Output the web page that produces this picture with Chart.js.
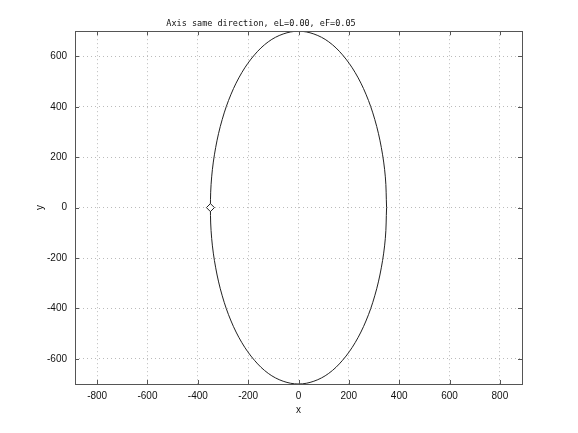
<!DOCTYPE html>
<html>
<head>
<meta charset="utf-8">
<script src="https://cdn.jsdelivr.net/npm/chart.js@4/dist/chart.umd.min.js"></script>
<style>
  html, body { margin: 0; padding: 0; background: #fff; }
  #wrap { width: 578px; height: 433px; }
</style>
</head>
<body>
<div id="wrap"><canvas id="c"></canvas></div>
<script>
// orbit outline, every 10 degrees
var orbitX = [350, 345, 329, 303, 268, 225, 175, 120, 61, 0,
    -61, -120, -175, -225, -268, -303, -329, -345, -350,
    -345, -329, -303, -268, -225, -175, -120, -61, 0,
    61, 120, 175, 225, 268, 303, 329, 345, 350];
var orbitY = [0, 122, 239, 350, 450, 536, 606, 658, 689, 700,
    689, 658, 606, 536, 450, 350, 239, 122, 0,
    -122, -239, -350, -450, -536, -606, -658, -689, -700,
    -689, -658, -606, -536, -450, -350, -239, -122, 0];
var markerX = [-350];
var markerY = [0];
var xTicks = [-800, -600, -400, -200, 0, 200, 400, 600, 800];
var yTicks = [-600, -400, -200, 0, 200, 400, 600];

var orbit = orbitX.map(function (x, i) { return {x: x, y: orbitY[i]}; });
var marker = markerX.map(function (x, i) { return {x: x, y: markerY[i]}; });

var tickFont = {family: 'Liberation Sans', size: 10};

// inward tick marks on all four sides plus the frame
var frame = {
    id: 'frame',
    afterDraw: function (chart) {
        var ctx = chart.ctx, a = chart.chartArea;
        var sx = chart.scales.x, sy = chart.scales.y;
        ctx.save();
        ctx.strokeStyle = '#555';
        ctx.lineWidth = 1;
        ctx.beginPath();
        xTicks.forEach(function (v) {
            var p = Math.round(sx.getPixelForValue(v)) + 0.5;
            ctx.moveTo(p, a.bottom); ctx.lineTo(p, a.bottom - 4);
            ctx.moveTo(p, a.top); ctx.lineTo(p, a.top + 4);
        });
        yTicks.forEach(function (v) {
            var p = Math.round(sy.getPixelForValue(v)) + 0.5;
            ctx.moveTo(a.left, p); ctx.lineTo(a.left + 4, p);
            ctx.moveTo(a.right, p); ctx.lineTo(a.right - 4, p);
        });
        ctx.stroke();
        ctx.strokeRect(Math.round(a.left) + 0.5, Math.round(a.top) + 0.5,
            Math.round(a.right - a.left), Math.round(a.bottom - a.top));
        ctx.restore();
    }
};

new Chart(document.getElementById('c'), {
    type: 'scatter',
    data: {
        datasets: [
            {
                data: orbit,
                showLine: true,
                borderColor: '#222',
                borderWidth: 1,
                tension: 0.35,
                pointRadius: 0,
                order: 2
            },
            {
                data: marker,
                pointStyle: 'rectRot',
                pointRadius: 4,
                borderColor: '#222',
                borderWidth: 1,
                backgroundColor: '#fff',
                order: 1
            }
        ]
    },
    options: {
        responsive: true,
        maintainAspectRatio: false,
        animation: false,
        layout: {padding: {left: 0, right: 56, top: 0, bottom: 0}},
        plugins: {
            legend: {display: false},
            tooltip: {enabled: false},
            title: {
                display: true,
                text: 'Axis same direction, eL=0.00, eF=0.05',
                color: '#111',
                font: {family: 'DejaVu Sans Mono', size: 8.5, weight: 'normal'},
                padding: {top: 19, bottom: 2}
            }
        },
        scales: {
            x: {
                type: 'linear',
                min: -888,
                max: 888,
                afterBuildTicks: function (s) { s.ticks = xTicks.map(function (v) { return {value: v}; }); },
                afterFit: function (s) { s.height = 49; },
                border: {display: false, dash: [1, 3]},
                grid: {color: '#bbb', drawTicks: false},
                ticks: {color: '#111', font: tickFont, padding: 6, maxRotation: 0},
                title: {display: true, text: 'x', color: '#111', font: tickFont, padding: {top: 4, bottom: 17}}
            },
            y: {
                type: 'linear',
                min: -700,
                max: 700,
                afterBuildTicks: function (s) { s.ticks = yTicks.map(function (v) { return {value: v}; }); },
                afterFit: function (s) { s.width = 75; },
                border: {display: false, dash: [1, 3]},
                grid: {color: '#bbb', drawTicks: false},
                ticks: {color: '#111', font: tickFont, padding: 8},
                title: {display: true, text: 'y', color: '#111', font: tickFont, padding: {top: 34, bottom: 4}}
            }
        }
    },
    plugins: [frame]
});
</script>
</body>
</html>
